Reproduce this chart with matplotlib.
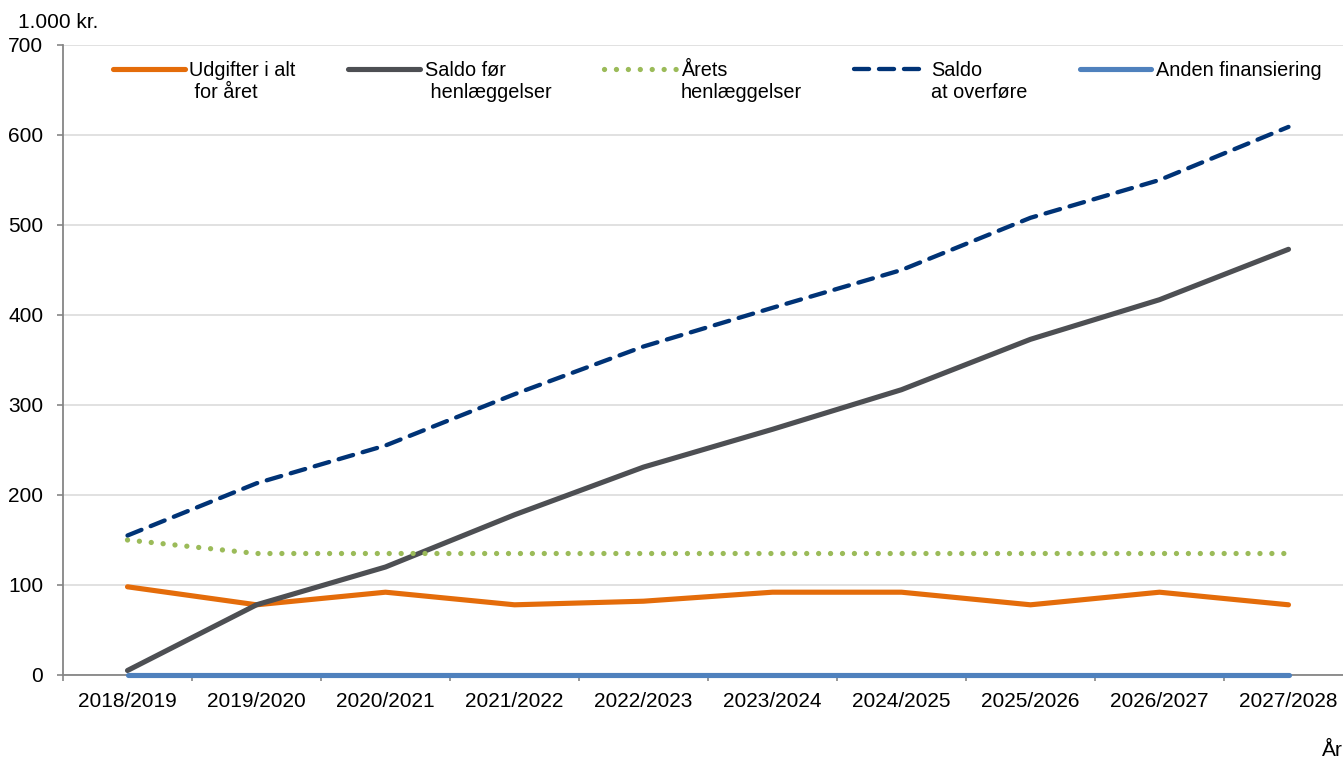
import matplotlib
matplotlib.use('Agg')
import matplotlib.pyplot as plt
import numpy as np

plt.rcParams['font.family'] = ['Liberation Sans', 'DejaVu Sans']

years = ['2018/2019', '2019/2020', '2020/2021', '2021/2022', '2022/2023',
         '2023/2024', '2024/2025', '2025/2026', '2026/2027', '2027/2028']
udgifter = [98, 78, 92, 78, 82, 92, 92, 78, 92, 78]
saldo_foer = [5, 78, 120, 178, 231, 273, 317, 373, 417, 473]
aarets_henl = [150, 135, 135, 135, 135, 135, 135, 135, 135, 135]
saldo_overfoere = [155, 213, 255, 312, 365, 408, 450, 508, 550, 609]
anden_fin = [0, 0, 0, 0, 0, 0, 0, 0, 0, 0]

labels = ['Udgifter i alt\n for året', 'Saldo før\n henlæggelser',
          'Årets\nhenlæggelser', 'Saldo\nat overføre', 'Anden finansiering']

W, H = 1343, 760
fig = plt.figure(figsize=(W / 100, H / 100), dpi=100)
ax = fig.add_axes([63 / W, 1 - 675 / H, 1290 / W, 630 / H])

x = np.arange(len(years))
ax.plot(x, udgifter, color='#E46C0A', lw=3.7, solid_capstyle='round',
        label=labels[0], zorder=3)
ax.plot(x, saldo_foer, color='#4D4F53', lw=3.7, solid_capstyle='round',
        label=labels[1], zorder=3)
ax.plot(x, aarets_henl, color='#9BBB59', lw=3.8, linestyle=(0, (0.01, 2.25)),
        dash_capstyle='round', label=labels[2], zorder=3)
ax.plot(x, saldo_overfoere, color='#003376', lw=3.1, linestyle=(0, (3.5, 2.3)),
        dash_capstyle='round', label=labels[3], zorder=3)
ax.plot(x, anden_fin, color='#4F81BD', lw=3.7, solid_capstyle='round',
        label=labels[4], zorder=4, clip_on=False)

ax.set_xlim(-0.5, len(years) - 0.5)
ax.set_ylim(0, 700)
ax.set_yticks(np.arange(0, 701, 100))
ax.set_xticks(x)
ax.set_xticklabels(years)
ax.set_xticks(np.arange(-0.5, len(years), 1), minor=True)
ax.tick_params(axis='x', which='major', length=0, pad=12, labelsize=15)
ax.tick_params(axis='x', which='minor', length=4.5, width=1.2, color='#868686')
ax.tick_params(axis='y', length=4.3, width=1.2, color='#868686', pad=10,
               labelsize=15)

ax.grid(axis='y', color='#D9D9D9', lw=1.1)
ax.set_axisbelow(True)
for s in ['top', 'right']:
    ax.spines[s].set_visible(False)
for s in ['left', 'bottom']:
    ax.spines[s].set_color('#868686')
    ax.spines[s].set_linewidth(1.3)

leg = ax.legend(loc='upper left', bbox_to_anchor=(113 / W, 1 - 61 / H),
                bbox_transform=fig.transFigure, ncol=5, frameon=False,
                fontsize=14.3, handlelength=3.6, handleheight=1.0,
                handletextpad=0.25, columnspacing=2.65, borderpad=0,
                borderaxespad=0)
# handles next to the first line of each label, columns top-aligned
leg._legend_handle_box.align = 'top'
for col in leg._legend_handle_box.get_children():
    col.align = 'left'
    for item in col.get_children():
        item.align = 'top'

fig.text(18 / W, 1 - 22 / H, '1.000 kr.', fontsize=15, va='center', ha='left')
fig.text(1322 / W, 1 - 741 / H, 'År', fontsize=15, va='top', ha='left')

fig.savefig('out.png', dpi=100)
